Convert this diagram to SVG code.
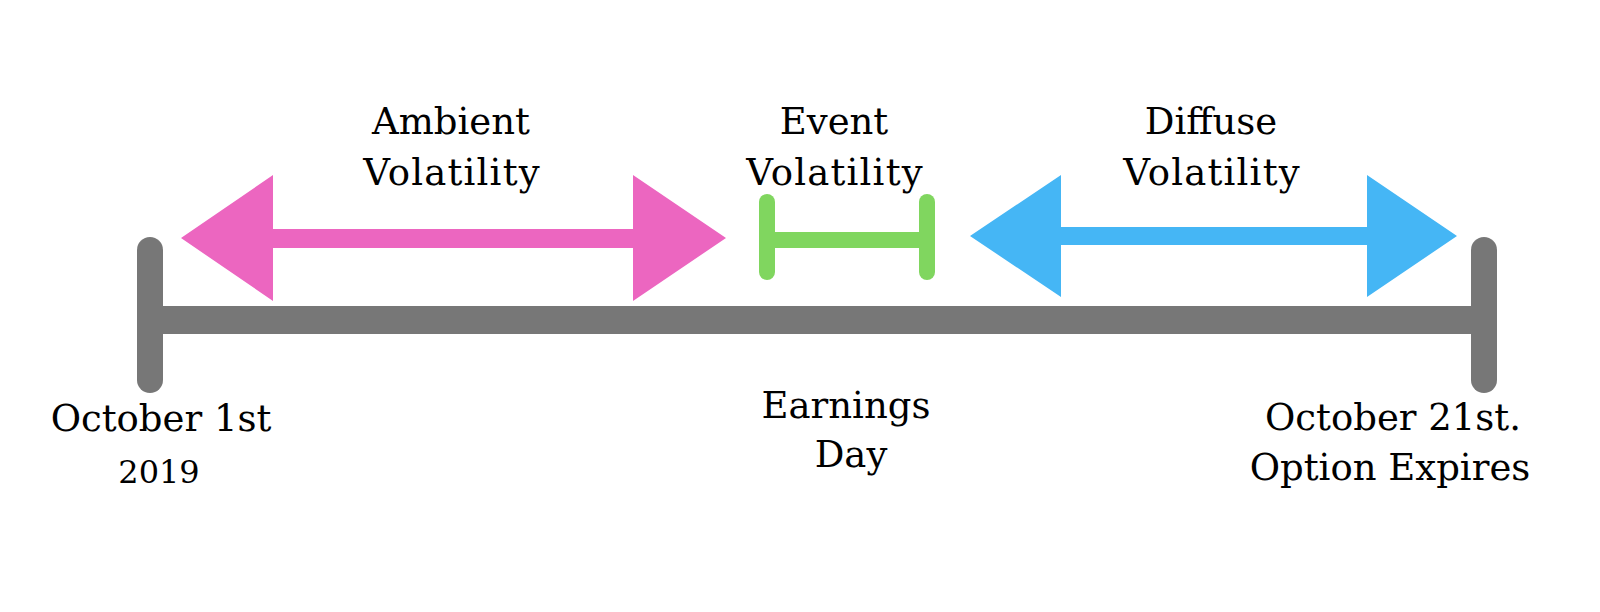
<svg xmlns="http://www.w3.org/2000/svg" width="1600" height="612" viewBox="0 0 1600 612">
<style>
text{font-family:"DejaVu Serif","Liberation Serif",serif;font-size:37px;fill:#000;text-anchor:middle}
.vol{letter-spacing:1.2px}
.gray{stroke:#777777;stroke-width:26;stroke-linecap:round;fill:none}
.green{stroke:#80D65F;stroke-width:16;fill:none}
</style>
<rect width="1600" height="612" fill="#ffffff"/>
<g id="connectors">
<line class="gray" x1="150" y1="320" x2="1484" y2="320" style="stroke-width:28;stroke-linecap:butt"/>
<line class="gray" x1="150" y1="250" x2="150" y2="380"/>
<line class="gray" x1="1484" y1="250" x2="1484" y2="380"/>
</g>
<g id="ambient">
<polygon fill="#EC66C0" points="181,238 273,175 273,229 633,229 633,175 726,238 633,301 633,248 273,248 273,301"/>
<text x="451" y="134">Ambient</text>
<text class="vol" x="452" y="185">Volatility</text>
</g>
<g id="event">
<line class="green" x1="767" y1="240" x2="927" y2="240"/>
<line class="green" x1="767" y1="202" x2="767" y2="272" style="stroke-linecap:round"/>
<line class="green" x1="927" y1="202" x2="927" y2="272" style="stroke-linecap:round"/>
<text x="834" y="134">Event</text>
<text class="vol" x="835" y="185">Volatility</text>
</g>
<g id="diffuse">
<polygon fill="#45B6F5" points="970,236 1061,175 1061,227 1367,227 1367,175 1457,236 1367,297 1367,245 1061,245 1061,297"/>
<text x="1211" y="134">Diffuse</text>
<text class="vol" x="1212" y="185">Volatility</text>
</g>
<g id="start">
<text x="161" y="431">October 1st</text>
<text x="159" y="483" style="font-size:32px">2019</text>
</g>
<g id="earnings">
<text x="846" y="418">Earnings</text>
<text x="851" y="467">Day</text>
</g>
<g id="expiry">
<text x="1393" y="430">October 21st.</text>
<text x="1390" y="480">Option Expires</text>
</g>
</svg>
